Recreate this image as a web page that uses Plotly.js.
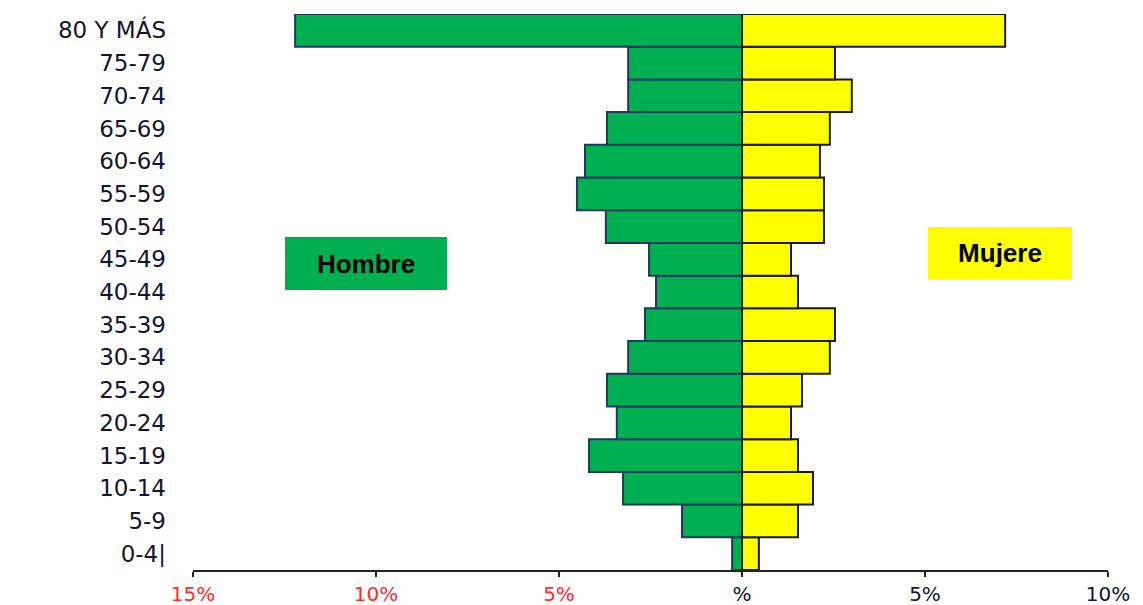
<!DOCTYPE html>
<html>
<head>
<meta charset="utf-8">
<script src="https://cdn.plot.ly/plotly-3.0.1.min.js"></script>
<style>html,body{margin:0;padding:0;background:#fff;}#chart{width:1143px;height:605px;}</style>
</head>
<body>
<div id="chart"></div>
<script>
const ageGroups = ["0-4|","5-9","10-14","15-19","20-24","25-29","30-34","35-39","40-44","45-49","50-54","55-59","60-64","65-69","70-74","75-79","80 Y MÁS"];
const hombres = [0.27,1.64,3.25,4.18,3.42,3.69,3.11,2.65,2.35,2.54,3.72,4.51,4.29,3.69,3.11,3.11,12.21];
const mujeres = [0.46,1.53,1.94,1.53,1.34,1.64,2.40,2.54,1.53,1.34,2.24,2.24,2.13,2.40,3.00,2.54,7.19];
const xTickVals = [-15,-10,-5,0,5,10];
const xTickText = ['<span style="color:#ff2a2a">15%</span>','<span style="color:#ff2a2a">10%</span>','<span style="color:#ff2a2a">5%</span>','%','5%','10%'];
const seriesNames = ["Hombre","Mujere"];

const traces = [
  {type:'bar', orientation:'h', name:seriesNames[0], y:ageGroups, x:hombres.map(v=>-v),
   marker:{color:'#00b050', line:{color:'#1f3a5f', width:2}}, hoverinfo:'skip'},
  {type:'bar', orientation:'h', name:seriesNames[1], y:ageGroups, x:mujeres,
   marker:{color:'#ffff00', line:{color:'#1a1a1a', width:2}}, hoverinfo:'skip'}
];

const layout = {
  width:1143, height:605,
  margin:{l:193, r:35, t:14, b:35},
  paper_bgcolor:'#fff', plot_bgcolor:'#fff',
  barmode:'relative', bargap:0,
  showlegend:false,
  font:{family:'DejaVu Sans, Arial, sans-serif', color:'#14142e'},
  xaxis:{range:[-15,10], tickvals:xTickVals, ticktext:xTickText, showgrid:false, zeroline:false,
         showline:true, linecolor:'#222', linewidth:1.5, ticks:'outside', ticklen:5, tickwidth:1.5, tickcolor:'#222',
         tickfont:{size:20, color:'#14142e'}, fixedrange:true},
  yaxis:{type:'category', range:[-0.5,16.5], showgrid:false, zeroline:false, showline:false, ticks:'',
         ticklabelstandoff:26, tickfont:{size:23, color:'#14142e'}, fixedrange:true},
  yaxis2:{overlaying:'y', anchor:'free', position:0.6, side:'left', range:[-0.5,16.5], type:'linear',
          tickvals:[0,1,2,3,4,5,6,7,8,9,10,11,12,13,14,15,16], showticklabels:false, showgrid:false, zeroline:false,
          showline:true, linecolor:'#111', linewidth:2, ticks:'inside', ticklen:9, tickwidth:1.8, tickcolor:'#111'},
  annotations:[
    {xref:'x', yref:'paper', x:-10.27, y:0.551, text:'<b>Hombre</b>', showarrow:false,
     width:162, height:53, bgcolor:'#00b050', borderpad:0, borderwidth:0,
     font:{family:'Liberation Sans, Arial, sans-serif', size:26, color:'#000'}},
    {xref:'x', yref:'paper', x:7.05, y:0.570, text:'<b>Mujere</b>', showarrow:false,
     width:144, height:52, bgcolor:'#ffff00', borderpad:0, borderwidth:0,
     font:{family:'Liberation Sans, Arial, sans-serif', size:26, color:'#000'}}
  ]
};

Plotly.newPlot('chart', traces, layout, {displayModeBar:false, staticPlot:true});
</script>
</body>
</html>
